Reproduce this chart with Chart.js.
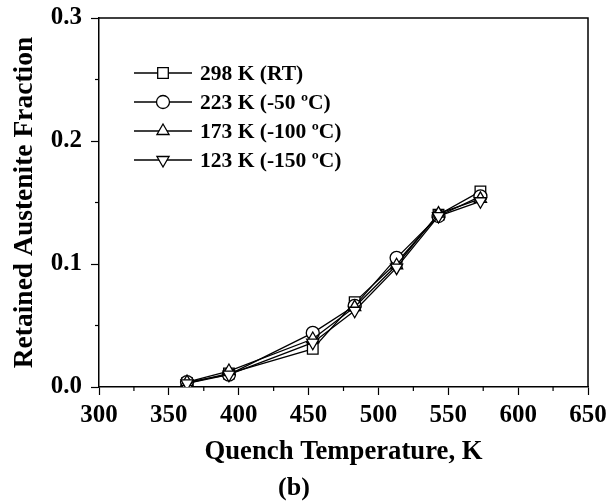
<!DOCTYPE html>
<html lang="en">
<head>
<meta charset="UTF-8" />
<title>Retained Austenite Fraction</title>
<style>
  body { margin: 0; background: #fff; }
</style>
</head>
<body>
<canvas id="chart" width="608" height="504"></canvas>

<script src="https://cdn.jsdelivr.net/npm/chart.js@4.4.0/dist/chart.umd.min.js"></script>
<script>
  // quench temperatures (K)
  var quenchTemps = [363, 393, 453, 483, 513, 543, 573];

  // retained austenite fraction for each cryo temperature
  var rt298 = [0.003, 0.011, 0.031, 0.069, 0.101, 0.140, 0.159];
  var cryo223 = [0.004, 0.010, 0.044, 0.066, 0.105, 0.139, 0.155];
  var cryo173 = [0.004, 0.013, 0.039, 0.065, 0.099, 0.141, 0.153];
  var cryo123 = [0.003, 0.010, 0.036, 0.062, 0.097, 0.139, 0.151];

  var seriesNames = ["298 K (RT)", "223 K (-50 ºC)", "173 K (-100 ºC)", "123 K (-150 ºC)"];

  // axis ranges
  var xTickValues = [300, 350, 400, 450, 500, 550, 600, 650];
  var yTickValues = [0.0, 0.1, 0.2, 0.3];

  var serif = "'Liberation Serif', 'Times New Roman', serif";
  var bottomTitleH = 26 * 1.2 + 2;

  function pts(ys) {
    return quenchTemps.map(function (t, i) { return { x: t, y: ys[i] }; });
  }

  function isMajor(v, step) {
    var r = v / step;
    return Math.abs(r - Math.round(r)) < 1e-6;
  }

  function series(label, ys, style, rot, radius, order) {
    return {
      label: label,
      data: pts(ys),
      borderColor: "#000",
      backgroundColor: "#fff",
      borderWidth: 1.3,
      pointStyle: style,
      rotation: rot,
      pointRadius: radius,
      pointBorderWidth: 1.3,
      pointBackgroundColor: "#fff",
      pointBorderColor: "#000",
      tension: 0,
      order: order
    };
  }

  // frame on top and right side
  var frame = {
    id: "frame",
    afterDraw: function (chart) {
      var c = chart.ctx, a = chart.chartArea;
      c.save();
      c.strokeStyle = "#000";
      c.lineWidth = 1.5;
      c.beginPath();
      c.moveTo(a.left, a.top);
      c.lineTo(a.right, a.top);
      c.lineTo(a.right, a.bottom);
      c.stroke();

      // short minor ticks
      c.lineWidth = 1.2;
      var xs = chart.scales.x, ys = chart.scales.y;
      xs.ticks.forEach(function (t) {
        if (t.label !== "") return;
        var px = xs.getPixelForValue(t.value);
        c.beginPath(); c.moveTo(px, a.bottom); c.lineTo(px, a.bottom + 4); c.stroke();
      });
      ys.ticks.forEach(function (t) {
        if (t.label !== "") return;
        var py = ys.getPixelForValue(t.value);
        c.beginPath(); c.moveTo(a.left, py); c.lineTo(a.left - 4, py); c.stroke();
      });
      c.restore();
    }
  };

  // legend drawn inside the plot: line + marker + label
  var insideLegend = {
    id: "insideLegend",
    afterDraw: function (chart) {
      var c = chart.ctx, a = chart.chartArea;
      var x0 = a.left + 35, y0 = a.top + 55;
      c.save();
      chart.data.datasets.forEach(function (ds, i) {
        var y = y0 + i * 29;
        c.strokeStyle = "#000";
        c.lineWidth = 1.3;
        c.beginPath(); c.moveTo(x0, y); c.lineTo(x0 + 58, y); c.stroke();
        c.fillStyle = "#fff";
        Chart.helpers.drawPoint(c, {
          pointStyle: ds.pointStyle,
          rotation: ds.rotation,
          radius: ds.pointRadius,
          borderWidth: 1.3
        }, x0 + 29, y);
        c.fillStyle = "#000";
        c.font = "bold 21.5px " + serif;
        c.textBaseline = "middle";
        c.textAlign = "left";
        c.fillText(ds.label, x0 + 66, y + 1);
      });
      c.restore();
    }
  };

  var ctx = document.getElementById("chart").getContext("2d");
  var myChart = new Chart(ctx, {
    type: "line",
    data: {
      datasets: [
        series(seriesNames[0], rt298, "rect", 0, 7.5, 4),
        series(seriesNames[1], cryo223, "circle", 0, 6.5, 3),
        series(seriesNames[2], cryo173, "triangle", 0, 7, 2),
        series(seriesNames[3], cryo123, "triangle", 180, 7, 1)
      ]
    },
    options: {
      responsive: false,
      animation: false,
      layout: { padding: { left: 0, right: 20, top: 18, bottom: 0 } },
      plugins: {
        legend: { display: false },
        tooltip: { enabled: false },
        title: {
          display: true,
          position: "bottom",
          text: "(b)",
          color: "#000",
          font: { family: serif, size: 26, weight: "bold" },
          padding: { top: 2, bottom: 0 }
        }
      },
      scales: {
        x: {
          type: "linear",
          min: xTickValues[0],
          max: xTickValues[xTickValues.length - 1],
          afterFit: function (s) {
            s.height = 504 - 387 - bottomTitleH;
            s.paddingLeft = 0;
            s.paddingRight = 0;
          },
          border: { display: true, color: "#000", width: 1.5 },
          grid: {
            drawOnChartArea: false,
            drawTicks: true,
            tickLength: 8,
            tickWidth: 1.2,
            tickColor: function (c) { return c.tick && isMajor(c.tick.value, 50) ? "#000" : "rgba(0,0,0,0)"; }
          },
          ticks: {
            stepSize: 25,
            padding: 6,
            maxRotation: 0,
            autoSkip: false,
            color: "#000",
            font: { family: serif, size: 25, weight: "bold" },
            callback: function (v) { return isMajor(v, 50) ? String(v) : ""; }
          },
          title: {
            display: true,
            text: "Quench Temperature, K",
            color: "#000",
            font: { family: serif, size: 26.7, weight: "bold" },
            padding: { top: 0, bottom: 3 }
          }
        },
        y: {
          min: yTickValues[0],
          max: yTickValues[yTickValues.length - 1],
          afterFit: function (s) {
            s.width = 99;
            s.paddingTop = 0;
            s.paddingBottom = 0;
          },
          border: { display: true, color: "#000", width: 1.5 },
          grid: {
            drawOnChartArea: false,
            drawTicks: true,
            tickLength: 8,
            tickWidth: 1.2,
            tickColor: function (c) { return c.tick && isMajor(c.tick.value, 0.1) ? "#000" : "rgba(0,0,0,0)"; }
          },
          ticks: {
            stepSize: 0.05,
            padding: 9,
            autoSkip: false,
            color: "#000",
            font: { family: serif, size: 25, weight: "bold" },
            callback: function (v) { return isMajor(v, 0.1) ? v.toFixed(1) : ""; }
          },
          title: {
            display: true,
            text: "Retained Austenite Fraction",
            color: "#000",
            font: { family: serif, size: 27.5, weight: "bold" },
            padding: { top: 8, bottom: 0 }
          }
        }
      }
    },
    plugins: [frame, insideLegend]
  });
</script>
</body>
</html>
